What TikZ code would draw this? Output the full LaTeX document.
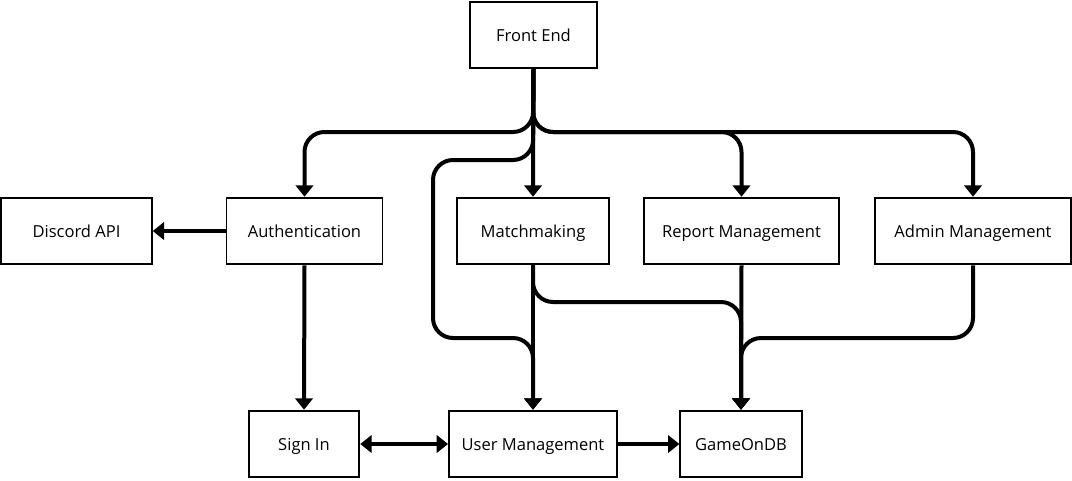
\documentclass[tikz,border=0pt]{standalone}
\usepackage{fontspec}
\setmainfont{Open Sans}
\usepackage{tikz}
\usetikzlibrary{arrows.meta,positioning,calc}

\begin{document}
\begin{tikzpicture}[x=0.75pt,y=-0.75pt,
  box/.style={draw, line width=1.4pt, minimum height=50pt, inner sep=0pt, text height=2.1ex, text depth=0.35ex, font=\fontsize{12.4}{14}\selectfont},
  flow/.style={line width=3pt, rounded corners=15pt, -{Triangle[width=13pt,length=8.5pt]}}]
  \useasboundingbox (0,0) rectangle (1072,480); % 画像全体の範囲
  \node[box, minimum width=95pt] (front) at (533.5,35) {Front End}; % 最上段のフロントエンド
  \node[box, minimum width=113pt] (discord) at (76.5,231) {Discord API}; % 外部のDiscord API
  \node[box, minimum width=117pt] (auth) at (304.5,231) {Authentication}; % 認証
  \node[box, minimum width=114pt] (match) at (533,231) {Matchmaking}; % マッチメイキング
  \node[box, minimum width=146pt] (report) at (741.5,231) {Report Management}; % レポート管理
  \node[box, minimum width=147pt] (admin) at (973,231) {Admin Management}; % 管理者管理
  \node[box, minimum width=83pt] (signin) at (304,444) {Sign In}; % サインイン
  \node[box, minimum width=126pt] (user) at (533,444) {User Management}; % ユーザー管理
  \node[box, minimum width=91pt] (db) at (741,444) {GameOnDB}; % データベース
  \coordinate (split) at (533,132); % 幹線が左右に分かれる点
  \draw[flow] (front.south) -- (split) -| (auth.north); % フロントエンドから認証へ
  \draw[flow] (front.south) -- (split) -| (report.north); % フロントエンドからレポート管理へ
  \draw[flow] (front.south) -- (split) -| (admin.north); % フロントエンドから管理者管理へ
  \draw[flow] (front.south) -- (match.north); % フロントエンドからマッチメイキングへ
  \draw[flow] (front.south) -- (533,160) -| (433,338) -| (user.north); % フロントエンドから迂回してユーザー管理へ
  \draw[flow] (auth.west) -- (discord.east); % 認証からDiscord APIへ
  \draw[flow] (auth.south) -- (signin.north); % 認証からサインインへ
  \draw[flow] (match.south) -- (user.north); % マッチメイキングからユーザー管理へ
  \draw[flow] (match.south) |- (741,302) -- (db.north); % マッチメイキングからデータベースへ
  \draw[flow] (report.south) -- (db.north); % レポート管理からデータベースへ
  \draw[flow] (admin.south) |- (741,338) -- (db.north); % 管理者管理からデータベースへ
  \draw[flow, {Triangle[width=13pt,length=8.5pt]}-{Triangle[width=13pt,length=8.5pt]}] (signin.east) -- (user.west); % サインインとユーザー管理の双方向
  \draw[flow] (user.east) -- (db.west); % ユーザー管理からデータベースへ
\end{tikzpicture}
\end{document}
